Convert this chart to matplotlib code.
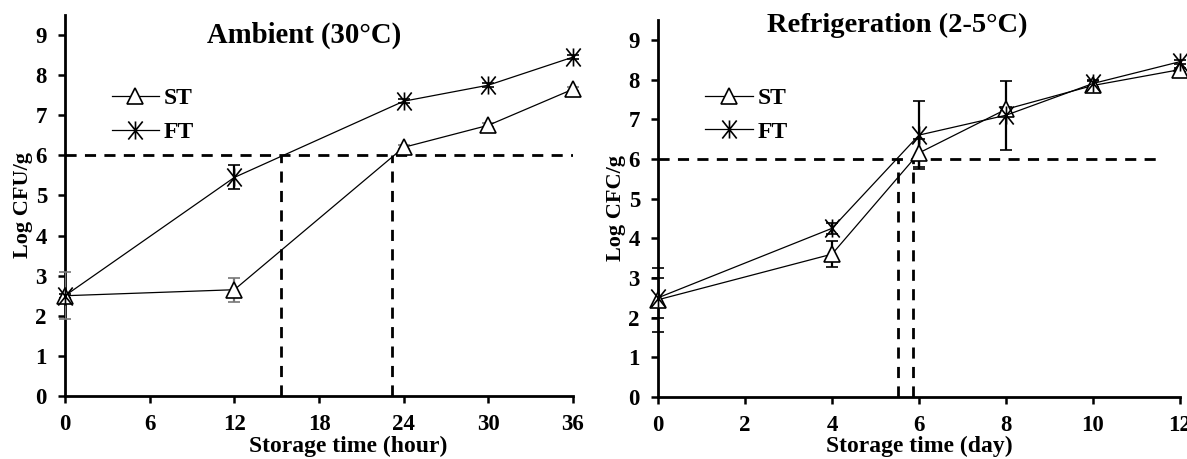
import numpy as np
import matplotlib.pyplot as plt
from matplotlib.path import Path

plt.rcParams['font.family'] = ['Liberation Serif', 'DejaVu Serif']
plt.rcParams['font.weight'] = 'bold'

# ── Data ──────────────────────────────────────────────────────────────────────
amb_x      = [0, 12, 24, 30, 36]
amb_st     = [2.50, 2.65, 6.20, 6.75, 7.65]
amb_st_err = [0.58, 0.30, 0.05, 0.05, 0.05]
amb_ft     = [2.50, 5.45, 7.35, 7.75, 8.45]
amb_ft_err = [0.05, 0.30, 0.05, 0.05, 0.05]
amb_cross  = [15.3, 23.2]

ref_x      = [0, 4, 6, 8, 10, 12]
ref_st     = [2.45, 3.60, 6.15, 7.25, 7.85, 8.25]
ref_st_err = [0.80, 0.32, 0.35, 0.05, 0.12, 0.05]
ref_ft     = [2.50, 4.25, 6.60, 7.10, 7.90, 8.45]
ref_ft_err = [0.50, 0.13, 0.85, 0.87, 0.10, 0.05]
ref_cross  = [5.52, 5.87]

LIMIT = 6

# X with a vertical bar, like the Excel "star" marker
STAR = Path([(-0.8, -1), (0.8, 1), (-0.8, 1), (0.8, -1), (0, -1), (0, 1)],
            [Path.MOVETO, Path.LINETO, Path.MOVETO, Path.LINETO,
             Path.MOVETO, Path.LINETO])


def style_axis(ax, xmax, xticks, xlabel, ylabel, xlab_x):
    ax.set_xlim(0, xmax)
    ax.set_ylim(0, 9.5)
    ax.set_xticks(xticks)
    ax.set_yticks(range(10))
    for s in ['top', 'right']:
        ax.spines[s].set_visible(False)
    for s in ['left', 'bottom']:
        ax.spines[s].set_linewidth(2)
    ax.tick_params(direction='out', length=5, width=1.8, labelsize=16.5)
    ax.tick_params(axis='x', pad=8)
    ax.tick_params(axis='y', pad=8)
    ax.set_xlabel(xlabel, fontsize=17, fontweight='bold')
    ax.xaxis.set_label_coords(xlab_x, -0.104)
    ax.set_ylabel(ylabel, fontsize=16, fontweight='bold', labelpad=2)


def draw_panel(ax, x, st, st_err, ft, ft_err, cross, hline_end, st_ecolor, leg_y):
    ax.hlines(LIMIT, 0, hline_end, colors='black', linestyles=(0, (4, 3)), lw=2, zorder=1)
    ax.vlines(cross, 0, LIMIT, colors='black', linestyles=(0, (4, 3)), lw=2, zorder=1)
    ax.errorbar(x, st, yerr=st_err, color='black', ecolor=st_ecolor, lw=0.9,
                elinewidth=1.6, capsize=4, capthick=1.6, marker='^', ms=12,
                mfc='white', mec='black', mew=1.2, label='ST', zorder=3)
    ax.errorbar(x, ft, yerr=ft_err, color='black', ecolor='black', lw=0.9,
                elinewidth=1.6, capsize=4, capthick=1.6, marker=STAR, ms=13,
                mew=1.2, label='FT', zorder=3)
    handles, labels = ax.get_legend_handles_labels()
    handles = [h[0] for h in handles]
    ax.legend(handles, labels, loc='center left', bbox_to_anchor=(0.05, leg_y),
              frameon=False, fontsize=17, handlelength=2.0, handletextpad=0.2,
              labelspacing=0.52)


fig = plt.figure(figsize=(11.87, 4.59), dpi=100)
ax1 = fig.add_axes([65 / 1187, 1 - 396 / 459, 508 / 1187, 381 / 459])
ax2 = fig.add_axes([658 / 1187, 1 - 397 / 459, 522 / 1187, 377 / 459])

draw_panel(ax1, amb_x, amb_st, amb_st_err, amb_ft, amb_ft_err, amb_cross, 36,
           '#777777', 0.737)
style_axis(ax1, 36, [0, 6, 12, 18, 24, 30, 36], 'Storage time (hour)', 'Log CFU/g', 0.557)
ax1.text(0.47, 0.947, 'Ambient (30°C)', transform=ax1.transAxes, ha='center',
         va='center', fontsize=20.7, fontweight='bold')

draw_panel(ax2, ref_x, ref_st, ref_st_err, ref_ft, ref_ft_err, ref_cross, 11.6,
           'black', 0.748)
style_axis(ax2, 12, [0, 2, 4, 6, 8, 10, 12], 'Storage time (day)', 'Log CFC/g', 0.5)
ax2.text(0.458, 0.985, 'Refrigeration (2-5°C)', transform=ax2.transAxes, ha='center',
         va='center', fontsize=20.5, fontweight='bold')

for ax in (ax1, ax2):
    for line in ax.get_lines():
        line.set_clip_on(False)

fig.savefig('out.png', dpi=100)
